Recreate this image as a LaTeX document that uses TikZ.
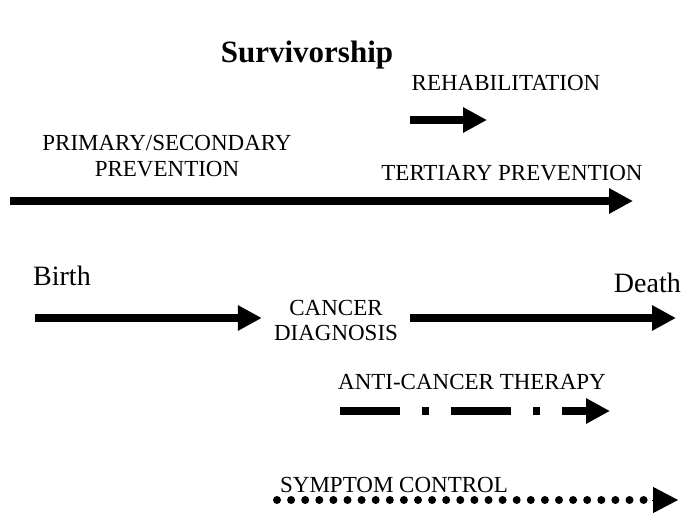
\documentclass[tikz,border=0pt]{standalone}
\usepackage{fontspec}
\setmainfont{Liberation Serif}
\usetikzlibrary{arrows.meta}

\begin{document}
\begin{tikzpicture}[x=1pt,y=-1pt,
        lbl/.style={inner sep=0pt,anchor=base,font=\fontsize{23}{25}\selectfont},
        big/.style={inner sep=0pt,anchor=base,font=\fontsize{28}{30}\selectfont},
        bigarrow/.style={line width=8pt,line cap=butt,-{Triangle[length=24pt,width=24pt]}}]
        \useasboundingbox (0,0) rectangle (683,513);

        % texts
        \node[inner sep=0pt,anchor=base,font=\fontsize{31}{33}\selectfont\bfseries] (title) at (307,63) {Survivorship};
        \node[lbl] (rehab) at (506,91) {REHABILITATION};
        \node[lbl] (primsec) at (167,151) {PRIMARY/SECONDARY};
        \node[lbl] (prev) at (167,177) {PREVENTION};
        \node[lbl] (tert) at (512,181) {TERTIARY PREVENTION};
        \node[big,anchor=base west] (birth) at (33,286) {Birth};
        \node[big,anchor=base east] (death) at (681,292) {Death};
        \node[lbl,align=center,inner xsep=12pt,anchor=north] (diag) at (336,300) {CANCER\\DIAGNOSIS};
        \node[lbl] (anti) at (472,389) {ANTI-CANCER THERAPY};
        \node[lbl] (sympt) at (394,492) {SYMPTOM CONTROL};

        % arrow ends
        \coordinate (r0) at (410,120);
        \coordinate (r1) at (487,120);
        \coordinate (p0) at (10,201);
        \coordinate (p1) at (633,201);
        \coordinate (b0) at (35,318);
        \coordinate (d1) at (676,318);
        \coordinate (a0) at (340,411);
        \coordinate (a1) at (610,411);
        \coordinate (s0) at (277,500);
        \coordinate (s2) at (645,500);
        \coordinate (s3) at (652,500);
        \coordinate (s1) at (678,500);

        \draw[bigarrow] (r0) -- (r1);
        \draw[bigarrow] (p0) -- (p1);
        \draw[bigarrow] (b0) -- (b0 -| diag.west);
        \draw[bigarrow] (b0 -| diag.east) -- (d1);
        \draw[bigarrow,dash pattern=on 60pt off 22pt on 7pt off 22pt] (a0) -- (a1);
        % dotted line, then its head
        \draw[line width=8pt,line cap=round,dash pattern=on 0pt off 14.1pt] (s0) -- (s2);
        \draw[line width=1pt,-{Triangle[length=25pt,width=26pt]}] (s3) -- (s1);
    \end{tikzpicture}
\end{document}
